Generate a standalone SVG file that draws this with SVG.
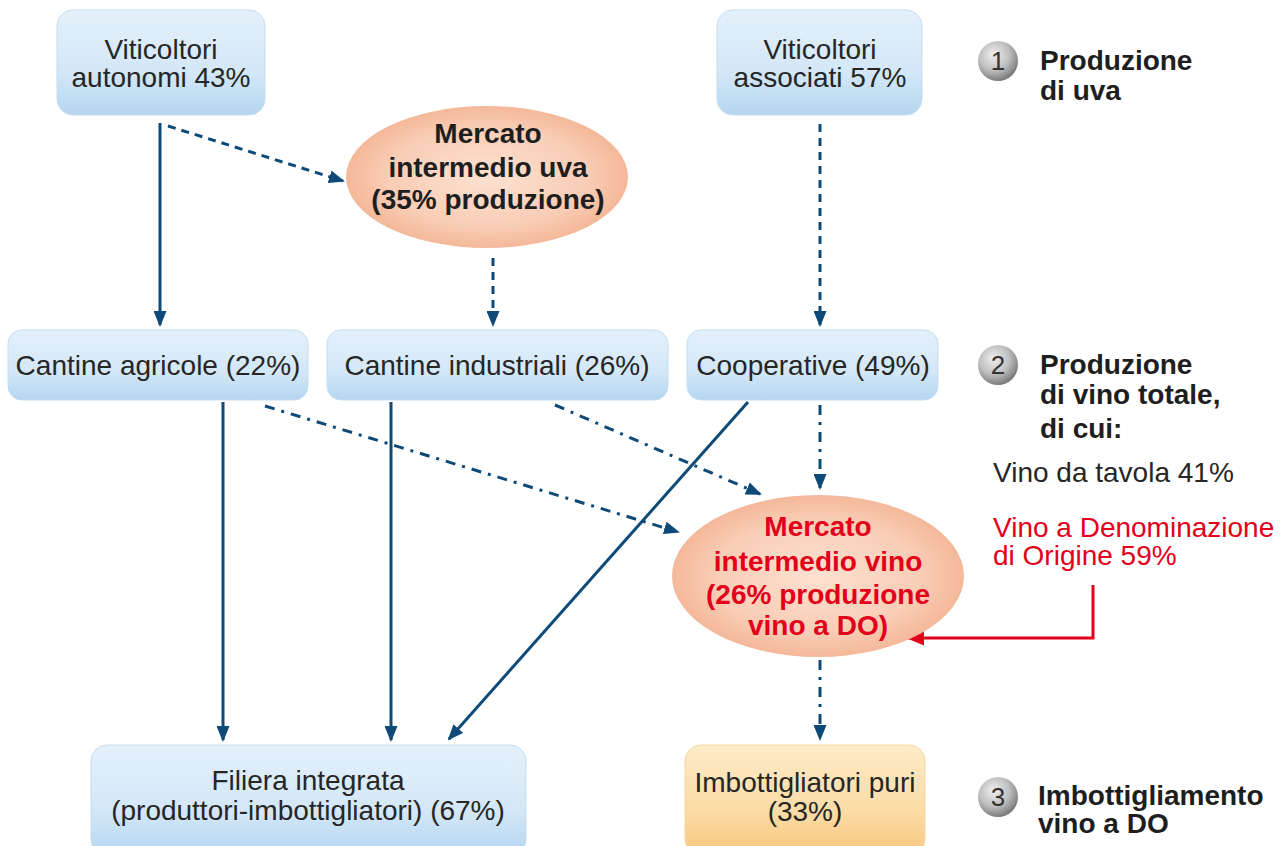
<svg xmlns="http://www.w3.org/2000/svg" width="1286" height="846" viewBox="0 0 1286 846">
<defs>
<linearGradient id="gBlue" x1="0" y1="0" x2="0" y2="1">
<stop offset="0" stop-color="#e4f0fa"/>
<stop offset="0.6" stop-color="#d3e7f7"/>
<stop offset="1" stop-color="#b4d6f0"/>
</linearGradient>
<linearGradient id="gOrange" x1="0" y1="0" x2="0" y2="1">
<stop offset="0" stop-color="#fdebc8"/>
<stop offset="0.6" stop-color="#fbdca6"/>
<stop offset="1" stop-color="#f8c77e"/>
</linearGradient>
<radialGradient id="gPeach" cx="0.5" cy="0.5" r="0.5">
<stop offset="0" stop-color="#fde1d0"/>
<stop offset="0.7" stop-color="#f9cdb6"/>
<stop offset="1" stop-color="#f4b899"/>
</radialGradient>
<radialGradient id="gGray" cx="0.4" cy="0.35" r="0.65">
<stop offset="0" stop-color="#f0f0f0"/>
<stop offset="0.6" stop-color="#bdbdbd"/>
<stop offset="1" stop-color="#7d7d7d"/>
</radialGradient>
<marker id="ah" viewBox="0 0 16 13" refX="14" refY="6.5" markerWidth="16" markerHeight="13" markerUnits="userSpaceOnUse" orient="auto">
<path d="M0,0 L16,6.5 L0,13 z" fill="#0e4a78"/>
</marker>
<marker id="ahr" viewBox="0 0 18 15" refX="16" refY="7.5" markerWidth="18" markerHeight="15" markerUnits="userSpaceOnUse" orient="auto">
<path d="M0,0 L18,7.5 L0,15 z" fill="#e2001a"/>
</marker>
<style>
.box{fill:url(#gBlue);stroke:#c3ddf1;stroke-width:1}
.obox{fill:url(#gOrange);stroke:#f5d6a4;stroke-width:1}
.ell{fill:url(#gPeach)}
.t{font-family:"Liberation Sans",Arial,sans-serif;font-size:28px;fill:#262626;text-anchor:middle}
.tb{font-family:"Liberation Sans",Arial,sans-serif;font-size:28px;font-weight:bold;fill:#1e1e1e;text-anchor:middle}
.tr{font-family:"Liberation Sans",Arial,sans-serif;font-size:28px;font-weight:bold;fill:#e2001a;text-anchor:middle}
.lb{font-family:"Liberation Sans",Arial,sans-serif;font-size:28px;font-weight:bold;fill:#1e1e1e}
.lr{font-family:"Liberation Sans",Arial,sans-serif;font-size:28px;fill:#262626}
.lred{font-family:"Liberation Sans",Arial,sans-serif;font-size:28px;fill:#e2001a}
.num{font-family:"Liberation Sans",Arial,sans-serif;font-size:26px;fill:#333;text-anchor:middle}
.c{fill:none;stroke:#0e4a78;stroke-width:3}
.dash{stroke-dasharray:8 6}
.dd{stroke-dasharray:10 7 3 7}
</style>
</defs>
<rect width="1286" height="846" fill="#ffffff"/>

<g id="connectors">
<path class="c" d="M160,123 V325" marker-end="url(#ah)"/>
<path class="c dash" d="M168,126 L343,181" marker-end="url(#ah)"/>
<path class="c dash" d="M493,258 V325" marker-end="url(#ah)"/>
<path class="c dash" d="M820,124 V325" marker-end="url(#ah)"/>
<path class="c" d="M223,402 V740" marker-end="url(#ah)"/>
<path class="c" d="M391,402 V740" marker-end="url(#ah)"/>
<path class="c" d="M748,402 L449,739" marker-end="url(#ah)"/>
<path class="c dd" d="M265,406 L678,532" marker-end="url(#ah)"/>
<path class="c dd" d="M555,405 L760,494" marker-end="url(#ah)"/>
<path class="c dd" d="M820,405 V488" marker-end="url(#ah)"/>
<path class="c dd" d="M820,660 V739" marker-end="url(#ah)"/>
<path d="M1093,585 V638 H908" fill="none" stroke="#e2001a" stroke-width="3" marker-end="url(#ahr)"/>
</g>

<g id="viticoltori-autonomi">
<rect class="box" x="57" y="10" width="208" height="105" rx="16"/>
<text class="t" x="161" y="59">Viticoltori</text>
<text class="t" x="161" y="87">autonomi 43%</text>
</g>
<g id="viticoltori-associati">
<rect class="box" x="717" y="10" width="205" height="105" rx="16"/>
<text class="t" x="820" y="59">Viticoltori</text>
<text class="t" x="820" y="87">associati 57%</text>
</g>
<g id="mercato-uva">
<ellipse class="ell" cx="487" cy="177" rx="141" ry="71"/>
<text class="tb" x="488" y="143">Mercato</text>
<text class="tb" x="488" y="177">intermedio uva</text>
<text class="tb" x="488" y="209">(35% produzione)</text>
</g>
<g id="cantine-agricole">
<rect class="box" x="8" y="330" width="300" height="70" rx="14"/>
<text class="t" x="158" y="375">Cantine agricole (22%)</text>
</g>
<g id="cantine-industriali">
<rect class="box" x="327" y="330" width="341" height="70" rx="14"/>
<text class="t" x="497" y="375">Cantine industriali (26%)</text>
</g>
<g id="cooperative">
<rect class="box" x="687" y="330" width="251" height="70" rx="14"/>
<text class="t" x="813" y="375">Cooperative (49%)</text>
</g>
<g id="mercato-vino">
<ellipse class="ell" cx="818" cy="576" rx="146" ry="81"/>
<text class="tr" x="818" y="536">Mercato</text>
<text class="tr" x="818" y="571">intermedio vino</text>
<text class="tr" x="818" y="604">(26% produzione</text>
<text class="tr" x="818" y="635">vino a DO)</text>
</g>
<g id="filiera-integrata">
<rect class="box" x="91" y="745" width="435" height="110" rx="16"/>
<text class="t" x="308" y="790">Filiera integrata</text>
<text class="t" x="308" y="820">(produttori-imbottigliatori) (67%)</text>
</g>
<g id="imbottigliatori-puri">
<rect class="obox" x="685" y="745" width="240" height="110" rx="16"/>
<text class="t" x="805" y="792">Imbottigliatori puri</text>
<text class="t" x="805" y="821">(33%)</text>
</g>

<g id="step-1">
<circle cx="998" cy="61" r="20" fill="url(#gGray)"/>
<text class="num" x="998" y="70">1</text>
<text class="lb" x="1040" y="70">Produzione</text>
<text class="lb" x="1040" y="100">di uva</text>
</g>
<g id="step-2">
<circle cx="998" cy="365" r="20" fill="url(#gGray)"/>
<text class="num" x="998" y="374">2</text>
<text class="lb" x="1040" y="374">Produzione</text>
<text class="lb" x="1040" y="404">di vino totale,</text>
<text class="lb" x="1040" y="438">di cui:</text>
<text class="lr" x="993" y="482">Vino da tavola 41%</text>
<text class="lred" x="993" y="537">Vino a Denominazione</text>
<text class="lred" x="993" y="565">di Origine 59%</text>
</g>
<g id="step-3">
<circle cx="998" cy="797" r="20" fill="url(#gGray)"/>
<text class="num" x="998" y="806">3</text>
<text class="lb" x="1038" y="805">Imbottigliamento</text>
<text class="lb" x="1038" y="833">vino a DO</text>
</g>
</svg>
